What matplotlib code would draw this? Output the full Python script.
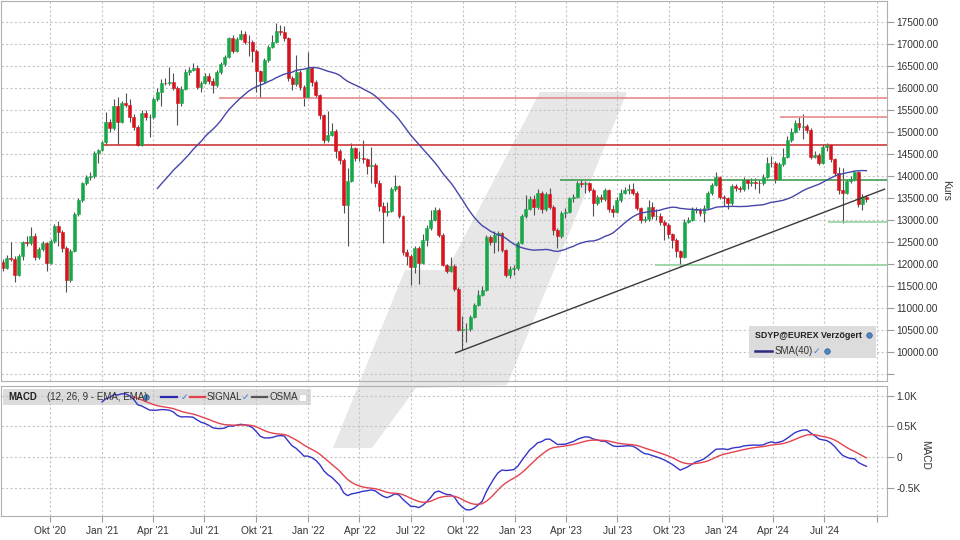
import matplotlib
matplotlib.use('Agg')
import matplotlib.pyplot as plt
import matplotlib.dates as mdates
from matplotlib.patches import Polygon, Rectangle
import numpy as np
import pandas as pd

plt.rcParams['font.family'] = ['Liberation Sans', 'DejaVu Sans']

# weekly candles, first one dated 2020-07-10
first_week = '2020-07-10'

closes = [11900, 12140, 12120, 11750, 12180, 12490, 12470, 12640, 12150, 12330,
          12470, 12030, 12520, 12860, 12730, 12360, 11640, 12300, 13140, 13460,
          13830, 13970, 13990, 14530, 14580, 14770, 15230, 15080, 15600, 15230,
          15650, 15610, 15350, 15120, 14700, 15430, 15330, 15350, 15740, 15920,
          16120, 16110, 16140, 15990, 15650, 15980, 16360, 16410, 16450, 16030,
          16110, 16270, 16170, 16070, 16360, 16540, 16710, 17130, 16840, 17110,
          17230, 17050, 17040, 16840, 16390, 16160, 16640, 16930, 17050, 17300,
          17270, 17130, 16220, 16080, 16370, 16030, 15800, 16450, 16140, 15840,
          15390, 14820, 14930, 15020, 14570, 14360, 13340, 13890, 14630, 14400,
          14400, 14380, 14230, 14250, 13830, 13320, 13190, 13210, 13700, 13770,
          13090, 12280, 12180, 11940, 12360, 12020, 12550, 12810, 13000, 13230,
          12660, 11980, 11850, 11960, 11430, 10500, 10520, 10520, 10800, 11070,
          11300, 11410, 12610, 12510, 12660, 12700, 12320, 11750, 11880, 11900,
          12480, 13080, 13240, 13470, 13300, 13610, 13240, 13580, 13300, 12770,
          12640, 13150, 13190, 13490, 13530, 13830, 13820, 13840, 13680, 13380,
          13520, 13470, 13680, 13240, 13190, 13460, 13620, 13680, 13700, 13610,
          13270, 13000, 13020, 13300, 13080, 13090, 12960, 12890, 12680, 12550,
          12300, 12170, 12960, 13000, 13230, 13230, 13150, 13270, 13610, 13800,
          13970, 13530, 13490, 13380, 13770, 13720, 13700, 13910, 13850, 13870,
          13850, 13830, 13980, 14300, 14290, 13930, 14270, 14440, 14820, 15010,
          15200, 15120, 15140, 15050, 14440, 14480, 14300, 14670, 14710, 14380,
          14060, 13680, 13620, 13890, 13930, 14080, 13360, 13530, 13470]

opens = [12050, 11900, 12140, 12120, 11750, 12180, 12490, 12470, 12640, 12150,
         12330, 12470, 12030, 12520, 12860, 12730, 12360, 11640, 12300, 13140,
         13460, 13830, 13970, 13990, 14530, 14580, 14770, 15230, 15080, 15600,
         15230, 15650, 15610, 15350, 15120, 14700, 15430, 15330, 15350, 15740,
         15920, 16120, 16110, 16140, 15990, 15650, 15980, 16360, 16410, 16450,
         16030, 16110, 16270, 16170, 16070, 16360, 16540, 16710, 17130, 16840,
         17110, 17230, 17050, 17040, 16840, 16390, 16160, 16640, 16930, 17050,
         17300, 17270, 17130, 16220, 16080, 16370, 16030, 15800, 16450, 16140,
         15840, 15390, 14820, 14930, 15020, 14570, 14360, 13340, 13890, 14630,
         14400, 14400, 14380, 14230, 14250, 13830, 13320, 13190, 13210, 13700,
         13770, 13090, 12280, 12180, 11940, 12360, 12020, 12550, 12810, 13000,
         13230, 12660, 11980, 11850, 11960, 11430, 10500, 10520, 10520, 10800,
         11070, 11300, 11410, 12610, 12510, 12660, 12700, 12320, 11750, 11880,
         11900, 12480, 13080, 13240, 13470, 13300, 13610, 13240, 13580, 13300,
         12770, 12640, 13150, 13190, 13490, 13530, 13830, 13820, 13840, 13680,
         13380, 13520, 13470, 13680, 13240, 13190, 13460, 13620, 13680, 13700,
         13610, 13270, 13000, 13020, 13300, 13080, 13090, 12960, 12890, 12680,
         12550, 12300, 12170, 12960, 13000, 13230, 13230, 13150, 13270, 13610,
         13800, 13970, 13530, 13490, 13380, 13770, 13720, 13700, 13910, 13850,
         13870, 13850, 13830, 13980, 14300, 14290, 13930, 14270, 14440, 14820,
         15010, 15200, 15120, 15140, 15050, 14440, 14480, 14300, 14670, 14710,
         14380, 14060, 13680, 13620, 13890, 13930, 14080, 13360, 13530]

highs = [12120, 12200, 12500, 12180, 12220, 12530, 12640, 12850, 12700, 12380,
         12520, 12500, 12560, 12900, 12980, 12780, 12420, 12340, 13180, 13500,
         13870, 14030, 14080, 14560, 14620, 14800, 15460, 15300, 15750, 15790,
         15700, 15880, 15750, 15400, 15160, 15500, 15500, 15420, 15790, 16000,
         16210, 16230, 16480, 16350, 16050, 16050, 16430, 16480, 16560, 16520,
         16170, 16330, 16330, 16220, 16400, 16600, 16760, 17170, 17200, 17160,
         17320, 17290, 17200, 17080, 16880, 16420, 16680, 16970, 17200, 17480,
         17440, 17420, 17160, 16280, 16750, 16400, 16060, 16820, 16480, 16180,
         15870, 15420, 15480, 15200, 15060, 14620, 14400, 14180, 14750, 14660,
         14560, 14820, 14420, 14660, 14300, 13900, 13400, 13400, 13750, 14030,
         13800, 13120, 12350, 12220, 12400, 12400, 12680, 12880, 13230, 13300,
         13280, 12700, 12000, 12150, 12000, 11470, 10820, 10650, 10850, 11120,
         11400, 11500, 12660, 12650, 12740, 12750, 12730, 12350, 11950, 11980,
         12530, 13140, 13560, 13550, 13560, 13700, 13650, 13640, 13720, 13340,
         12820, 13200, 13280, 13530, 13580, 13890, 13900, 13880, 13870, 13720,
         13560, 13580, 13720, 13700, 13350, 13520, 13700, 13760, 13820, 13830,
         13650, 13300, 13080, 13450, 13400, 13250, 13150, 13000, 12930, 12700,
         12600, 12320, 13020, 13060, 13300, 13300, 13280, 13330, 13660, 13850,
         14100, 14000, 13570, 13520, 13820, 13820, 13770, 13980, 13940, 13950,
         13960, 13900, 14050, 14440, 14450, 14340, 14320, 14640, 14900, 15100,
         15280, 15340, 15400, 15190, 15080, 14560, 14520, 14720, 14760, 14730,
         14400, 14200, 14190, 13940, 14000, 14120, 14120, 13580, 13560]

lows = [11830, 11880, 12060, 11580, 11720, 12100, 12420, 12440, 12100, 12110,
        12300, 11850, 12000, 12480, 12400, 12280, 11370, 11600, 12280, 13100,
        13420, 13800, 13900, 13960, 14300, 14560, 14700, 14990, 15040, 14710,
        15200, 15560, 15230, 15050, 14680, 14680, 15280, 14890, 15300, 15700,
        15600, 16060, 16060, 15950, 15160, 15600, 15950, 16300, 16380, 15980,
        15900, 16080, 16100, 15880, 16030, 16320, 16500, 16680, 16800, 16810,
        17080, 16990, 16720, 16600, 15920, 15780, 16120, 16600, 16900, 17020,
        17200, 17060, 16150, 15950, 16050, 15950, 15600, 15780, 16050, 15780,
        15300, 14750, 14780, 14900, 14400, 14280, 13150, 12400, 13860, 14350,
        14330, 14300, 14050, 13830, 13760, 13200, 12470, 13100, 13180, 13650,
        13050, 12200, 11980, 11520, 11800, 11550, 11990, 12400, 12780, 12970,
        12620, 11950, 11800, 11820, 11380, 10470, 10050, 10220, 10480, 10770,
        11040, 11280, 11380, 12430, 12250, 12300, 12270, 11700, 11680, 11750,
        11870, 12450, 13050, 13220, 13120, 13240, 13150, 13200, 13260, 12650,
        12360, 12600, 13050, 13150, 13420, 13500, 13760, 13620, 13640, 13100,
        13340, 13420, 13430, 13180, 13070, 13150, 13420, 13580, 13600, 13560,
        13220, 12940, 12950, 12980, 13020, 13000, 12880, 12550, 12600, 12360,
        12150, 11960, 12140, 12940, 12970, 13150, 13080, 12960, 13240, 13560,
        13770, 13480, 13320, 13250, 13350, 13660, 13630, 13670, 13700, 13780,
        13700, 13620, 13800, 13950, 14200, 13840, 13900, 14230, 14400, 14780,
        14980, 15050, 14830, 14980, 14380, 14400, 14250, 14270, 14560, 14320,
        13990, 13600, 12940, 13590, 13850, 13890, 13300, 13230, 13420]

# support / resistance levels: (price, start date, colour)
level_prices = [15770, 14700, 15340, 13910, 12955, 11980]
level_starts = ['2021-07-26', '2021-01-03', '2024-04-13', '2023-03-22', '2024-07-07', '2023-09-06']
level_colors = ['#e88a8a', '#c93a3a', '#e88a8a', '#3f9d52', '#93d39f', '#93d39f']

trend_dates = ['2022-09-18', '2024-10-15']
trend_prices = [9980, 13700]

sma_window = 40
quarter_ticks = pd.date_range('2020-10-01', '2024-10-01', freq='QS')
month_names = {1: 'Jan', 4: 'Apr', 7: 'Jul', 10: 'Okt'}

price_ticks = np.arange(9500, 17501, 500)
macd_ticks = [-500, 0, 500, 1000]
macd_tick_labels = ['-0.5K', '0', '0.5K', '1.0K']


def ema(values, n):
    # EMA seeded with the simple average of the first n valid values
    v = np.asarray(values, float)
    out = np.full(len(v), np.nan)
    valid = np.where(~np.isnan(v))[0]
    start = valid[0] + n - 1
    out[start] = v[valid[0]:start + 1].mean()
    k = 2 / (n + 1)
    for i in range(start + 1, len(v)):
        out[i] = v[i] * k + out[i - 1] * (1 - k)
    return out


dates = pd.date_range(first_week, periods=len(closes), freq='7D')
xs = mdates.date2num(dates)
o = np.array(opens, float)
c = np.array(closes, float)
h = np.array(highs, float)
l = np.array(lows, float)

sma = pd.Series(c).rolling(sma_window).mean()
macd = ema(c, 12) - ema(c, 26)
signal = ema(macd, 9)

W, H = 960, 540
fig = plt.figure(figsize=(9.6, 5.4), dpi=100)
fig.patch.set_facecolor('white')


def fx(px):
    return px / W


def fy(py):
    return 1 - py / H


# watermark slash behind both panels
wm = [(333, 448), (405, 270), (447, 270), (540, 92), (627, 92), (507, 385),
      (416, 388), (372, 448)]
fig.patches.append(Polygon([(fx(a), fy(b)) for a, b in wm], closed=True,
                           transform=fig.transFigure, facecolor='#e7e7e7',
                           edgecolor='none', zorder=0))

ax = fig.add_axes([fx(1), fy(381), fx(886), (381 - 1) / H])
ax2 = fig.add_axes([fx(1), fy(516), fx(886), (516 - 386) / H], sharex=ax)

grid_kw = dict(color='#c4c4c4', linestyle=(0, (2, 2)), linewidth=0.8)
for a in (ax, ax2):
    a.set_facecolor('none')
    a.set_zorder(1)
    for sp in a.spines.values():
        sp.set_color('#b0b0b0')
    a.yaxis.tick_right()
    a.tick_params(axis='y', colors='#9a9a9a', labelcolor='#333333', labelsize=7.3,
                  length=5, pad=2)
    a.tick_params(axis='x', colors='#9a9a9a', labelcolor='#333333', labelsize=7.3,
                  length=4, pad=3)
    a.set_xticks(mdates.date2num(quarter_ticks))
    a.grid(True, **grid_kw)
    a.set_axisbelow(True)

# candles
up = c >= o
col = np.where(up, '#18a84a', '#d6141e')
ax.vlines(xs, l, h, color='#505050', linewidth=0.8, zorder=2)
body = np.maximum(np.abs(c - o), 12)
ax.bar(xs, body, bottom=np.minimum(o, c), width=5.2, color=col, edgecolor=col,
       linewidth=0.4, zorder=3)

ax.plot(xs, sma, color='#4646aa', linewidth=1.0, zorder=4)

x_end = xs[0] + 1562.5
for p, st, cl in zip(level_prices, level_starts, level_colors):
    ax.hlines(p, mdates.date2num(pd.Timestamp(st)), x_end, color=cl, linewidth=1.2, zorder=2)
ax.plot(mdates.date2num(pd.to_datetime(trend_dates)), trend_prices, color='#3a3a3a',
        linewidth=1.0, zorder=4)

ax.set_xlim(xs[0] - 3.5, x_end)
ax.set_ylim(9341, 17977)
ax.set_yticks(price_ticks)
ax.set_yticklabels(['' if v == 9500 else '%.2f' % v for v in price_ticks])
ax.tick_params(axis='x', labelbottom=False, length=0)

ax2.plot(xs, macd, color='#3434c8', linewidth=1.0, zorder=4)
ax2.plot(xs, signal, color='#e4424e', linewidth=1.0, zorder=4)
ax2.set_ylim(-961, 1156)
ax2.set_yticks(macd_ticks)
ax2.set_yticklabels(macd_tick_labels)
ax2.set_xticklabels(['%s \'%s' % (month_names[d.month], str(d.year)[2:]) if d.year < 2024 or d.month < 10 else ''
                     for d in quarter_ticks])

# axis titles
fig.text(fx(946), fy(190), 'Kurs', rotation=270, ha='center', va='center',
         fontsize=7.3, color='#333333')
fig.text(fx(925), fy(455), 'MACD', rotation=270, ha='center', va='center',
         fontsize=7.3, color='#333333')

# legend box in the price panel
fig.patches.append(Rectangle((fx(749), fy(358)), fx(127), 32 / H, transform=fig.transFigure,
                             facecolor='#dcdcdc', edgecolor='none', zorder=2))
fig.text(fx(755), fy(335), 'SDYP@EUREX Verzögert', fontsize=6.4, fontweight='bold',
         color='#222222', va='center', zorder=3)
fig.lines.append(plt.Line2D([fx(755), fx(772)], [fy(351), fy(351)], transform=fig.transFigure,
                            color='#2a2a80', linewidth=1.8, zorder=3))
fig.text(fx(775), fy(351), 'SMA(40)', fontsize=7, color='#333333', va='center', zorder=3)
fig.text(fx(813), fy(351), '✓', fontsize=6.5, color='#3a7bd5', va='center', zorder=3,
         family='DejaVu Sans')
for gx, gy in [(869, 335), (827, 351)]:
    fig.lines.append(plt.Line2D([fx(gx)], [fy(gy)], transform=fig.transFigure, marker='o',
                                markersize=4, color='#4f86c0', markeredgecolor='#2f5f90',
                                markeredgewidth=0.5, zorder=3))

# legend strip in the MACD panel
fig.patches.append(Rectangle((fx(3), fy(405)), fx(308), 16 / H, transform=fig.transFigure,
                             facecolor='#dcdcdc', edgecolor='none', zorder=0.5))
fig.text(fx(8), fy(397), 'MACD', fontsize=6.9, fontweight='bold', color='#222222', va='center')
fig.text(fx(47), fy(397), '(12, 26, 9 - EMA, EMA)', fontsize=7, color='#333333', va='center')
fig.lines.append(plt.Line2D([fx(146)], [fy(397)], transform=fig.transFigure, marker='o',
                            markersize=4, color='#4f86c0', markeredgecolor='#2f5f90',
                            markeredgewidth=0.5))
for x0, x1, cl in [(161, 177, '#2a2ab0'), (190, 205, '#e4424e'), (252, 267, '#555555')]:
    fig.lines.append(plt.Line2D([fx(x0), fx(x1)], [fy(397), fy(397)], transform=fig.transFigure,
                                color=cl, linewidth=1.6))
for cx in (181, 242):
    fig.text(fx(cx), fy(397), '✓', fontsize=6.5, color='#3a7bd5', va='center', family='DejaVu Sans')
fig.text(fx(207), fy(397), 'SIGNAL', fontsize=7, color='#333333', va='center')
fig.text(fx(269), fy(397), 'OSMA', fontsize=7, color='#333333', va='center')
fig.patches.append(Rectangle((fx(299), fy(401)), fx(7), 7 / H, transform=fig.transFigure,
                             facecolor='white', edgecolor='#cccccc', linewidth=0.5))

fig.savefig('out.png', dpi=100)
